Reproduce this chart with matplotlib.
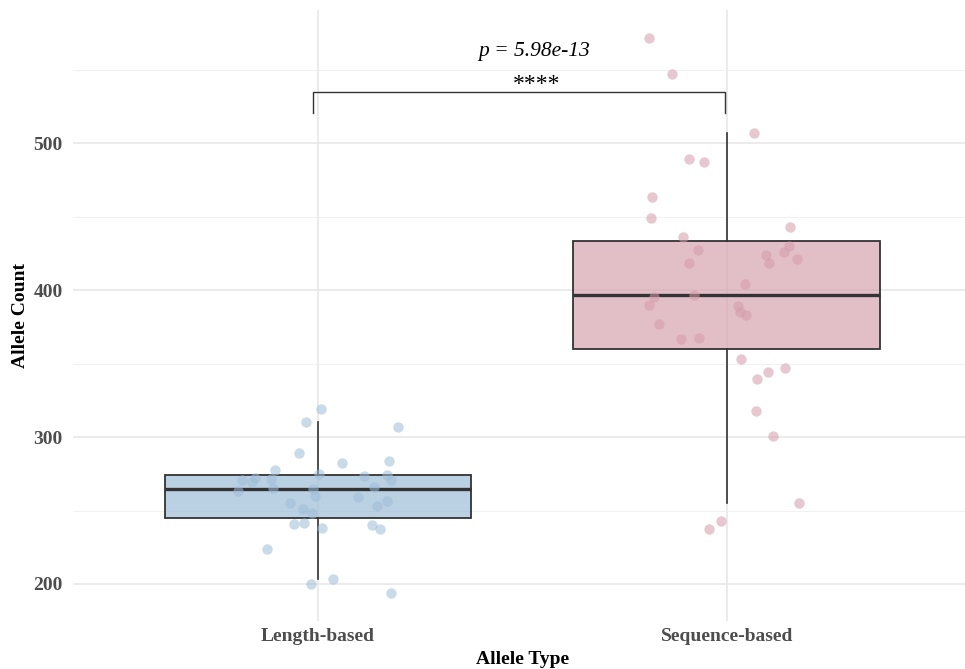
import numpy as np
import matplotlib.pyplot as plt
from matplotlib.colors import to_rgba
from matplotlib.ticker import MultipleLocator

plt.rcParams['font.family'] = ['Liberation Serif', 'DejaVu Serif']

groups = ["Length-based", "Sequence-based"]

# allele counts per sample
length_counts = [318.8, 310.2, 307.0, 289.1, 282.3, 283.5, 277.3, 274.8, 273.5, 274.4,
                 271.0, 271.0, 272.3, 269.2, 271.2, 266.2, 263.1, 265.3, 264.4, 259.9,
                 259.2, 256.5, 255.3, 253.1, 250.8, 248.1, 240.6, 241.5, 237.9, 240.1,
                 237.4, 223.6, 203.4, 200.0, 193.9]
# horizontal jitter of each point (category units)
length_jitter = [0.007, -0.028, 0.196, -0.046, 0.059, 0.175, -0.105, 0.002, 0.112, 0.170,
                 0.178, -0.185, -0.154, -0.162, -0.114, 0.137, -0.196, -0.109, -0.011, -0.008,
                 0.099, 0.169, -0.069, 0.144, -0.036, -0.014, -0.058, -0.035, 0.010, 0.132,
                 0.152, -0.125, 0.037, -0.017, 0.178]

sequence_counts = [571.4, 547.1, 507.0, 488.9, 486.9, 463.1, 449.0, 442.9, 436.1, 430.1,
                   427.2, 424.0, 425.6, 421.1, 418.4, 418.2, 404.3, 395.2, 396.8, 390.0,
                   389.3, 385.0, 383.0, 376.9, 366.9, 367.3, 353.1, 344.0, 347.1, 339.7,
                   317.9, 300.5, 255.1, 243.1, 237.2]
sequence_jitter = [-0.190, -0.134, 0.068, -0.091, -0.056, -0.183, -0.186, 0.156, -0.107, 0.152,
                   -0.069, 0.097, 0.141, 0.171, 0.103, -0.092, 0.045, -0.177, -0.081, -0.190,
                   0.027, 0.033, 0.047, -0.165, -0.111, -0.068, 0.036, 0.100, 0.143, 0.075,
                   0.072, 0.114, 0.176, -0.015, -0.044]

p_label = "p = 5.98e-13"
sig_label = "****"

box_colors = ['#9dbcd8', '#d7a5b0']
point_colors = ['#9dbcd8', '#d59baa']
edge = '#333333'

fig = plt.figure(figsize=(9.65, 6.69), dpi=100)
ax = fig.add_axes([0.0752, 0.0717, 0.932, 0.9133])

data = [length_counts, sequence_counts]
jitters = [length_jitter, sequence_jitter]

bp = ax.boxplot(data, positions=[1, 2], widths=0.75, whis=1.5, showfliers=False,
                showcaps=False, patch_artist=True,
                boxprops=dict(edgecolor=edge, linewidth=1.3),
                medianprops=dict(color=edge, linewidth=2.4),
                whiskerprops=dict(color=edge, linewidth=1.2))
for patch, c in zip(bp['boxes'], box_colors):
    patch.set_facecolor(to_rgba(c, 0.7))
    patch.set_edgecolor(edge)
    patch.set_zorder(2)

for i, (vals, jit) in enumerate(zip(data, jitters)):
    xs = (i + 1) + np.array(jit)
    ax.scatter(xs, vals, s=56, color=point_colors[i], alpha=0.55, linewidths=0, zorder=4)

# significance bracket
bx1, bx2 = 1 - 0.013, 2 - 0.003
by, tip = 535.0, 520.3
ax.plot([bx1, bx1, bx2, bx2], [tip, by, by, tip], color=edge, linewidth=1.0,
        solid_joinstyle='round', zorder=5)
ax.text(1.536, 536.0, sig_label, ha='center', va='baseline', fontsize=17, zorder=5)
ax.text(1.53, 559.2, p_label, ha='center', va='baseline', fontsize=15.5,
        style='italic', zorder=5)

ax.set_xlim(0.4, 2.6)
ax.set_ylim(174.8, 590.5)
ax.set_xticks([1, 2])
ax.set_xticklabels(groups)
ax.yaxis.set_major_locator(MultipleLocator(100))
ax.yaxis.set_minor_locator(MultipleLocator(50))

ax.grid(which='major', color='#e6e6e6', linewidth=1.1, zorder=0)
ax.grid(which='minor', axis='y', color='#efefef', linewidth=0.6, zorder=0)
ax.set_axisbelow(True)
for s in ax.spines.values():
    s.set_visible(False)

ax.tick_params(which='both', length=0)
ax.tick_params(axis='y', pad=7)
ax.tick_params(axis='x', pad=5)
for lab in ax.get_xticklabels() + ax.get_yticklabels():
    lab.set_fontweight('bold')
    lab.set_color('#4d4d4d')
    lab.set_fontsize(14)

ax.set_xlabel("Allele Type", fontsize=14, fontweight='bold', labelpad=4)
ax.set_ylabel("Allele Count", fontsize=14, fontweight='bold', labelpad=3)

fig.savefig("out.png", dpi=100)
